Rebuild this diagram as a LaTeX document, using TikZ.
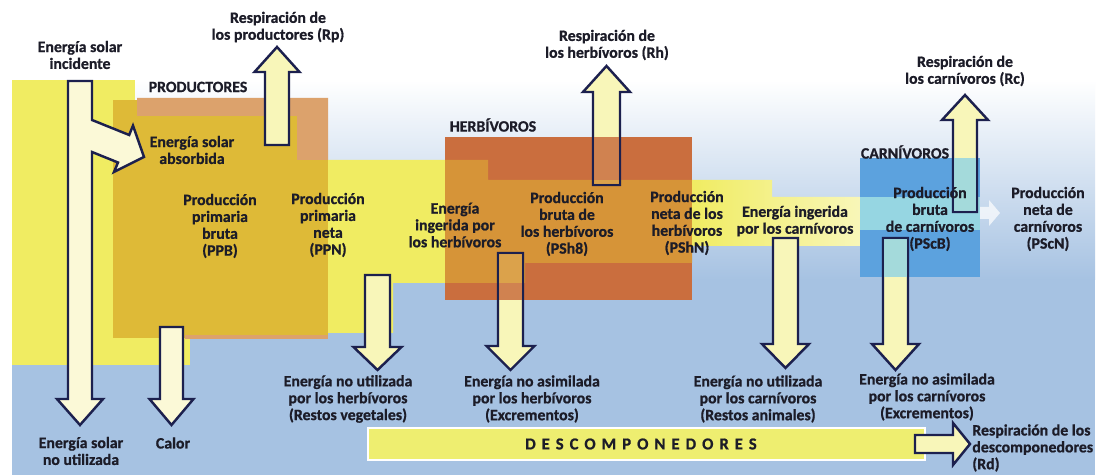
\documentclass[tikz,border=0pt]{standalone}
\usepackage{fontspec}
\setmainfont{Carlito}
\definecolor{bgblue}{RGB}{166,194,226}
\definecolor{sunyel}{RGB}{240,236,98}
\definecolor{gold}{RGB}{222,186,55}
\definecolor{salmon}{RGB}{220,162,108}
\definecolor{herbout}{RGB}{202,110,62}
\definecolor{herbin}{RGB}{214,148,56}
\definecolor{carnblue}{RGB}{92,162,222}
\definecolor{carncyan}{RGB}{150,214,226}
\definecolor{arrowline}{RGB}{28,32,78}
\definecolor{arrowfill}{RGB}{248,246,185}
\definecolor{arrowcream}{RGB}{251,249,215}
\definecolor{txt}{RGB}{28,28,40}
\definecolor{baryel}{RGB}{238,238,112}
\tikzset{
  blockarrow/.style={draw=arrowline, line width=1.4pt, line join=miter, fill=arrowfill},
  lbl/.style={font=\bfseries\addfontfeatures{FakeBold=0.8}\fontsize{9}{9.6}\selectfont, text=txt, align=center, inner sep=0pt},
  patch/.style={opacity=.85},
}
\begin{document}
\begin{tikzpicture}[x=0.02cm,y=-0.02cm]
\useasboundingbox (0,0) rectangle (1109,475);
\fill[white] (0,0) rectangle (1109,475);
% background
\shade[top color=white, bottom color=bgblue] (12,80) rectangle (1095,280);
\fill[bgblue] (12,279.5) rectangle (1095,475);
% solar yellow column
\fill[sunyel] (12,80) rectangle (135,365);
\fill[sunyel] (113,100) rectangle (190,365);
% productores
\fill[gold] (113,100) rectangle (328,338);
\fill[salmon] (137,98) -- (328,98) -- (328,160) -- (297,160) -- (297,116) -- (137,116) -- cycle;
\fill[salmon] (185,335) rectangle (328,339);
% yellow band to herbivores
\fill[sunyel] (328,160) -- (445,160) -- (445,283) -- (393,283) -- (393,333) -- (328,333) -- cycle;
% herbivores
\fill[herbout] (445,137) rectangle (692,300);
\fill[herbin] (445,160) -- (488,160) -- (488,180) -- (692,180) -- (692,263) -- (525,263) -- (525,283) -- (445,283) -- cycle;
% yellow band to carnivores
\shade[left color=sunyel, right color=sunyel!45!white] (692,180) -- (772,180) -- (772,197) -- (860,197) -- (860,246) -- (692,246) -- cycle;
% carnivores
\fill[carnblue] (860,158) rectangle (980,277);
\fill[carncyan] (860,197) rectangle (980,230);
\fill[white, opacity=.7] (980,207) -- (989,207) -- (989,200) -- (1000,213) -- (989,226) -- (989,219) -- (980,219) -- cycle;
% descomponedores bar
\fill[baryel, draw=white, line width=1.5pt] (368,428) rectangle (925,460);
% arrows
\path[blockarrow, fill=arrowcream] (68,81) -- (68,399) -- (57,399) -- (80,425) -- (103,399) -- (92,399) -- (92,152) -- (118,162.5) -- (114,172) -- (144,157) -- (133,125.6) -- (129.2,135) -- (92,120) -- (92,81) -- cycle;
\path[blockarrow] (265,145) -- (265,72) -- (254.5,72) -- (277,47) -- (299.5,72) -- (289,72) -- (289,145) -- cycle;
\path[blockarrow, fill=arrowcream] (160,327) -- (160,399) -- (149.5,399) -- (171.5,425) -- (193.5,399) -- (183,399) -- (183,327) -- cycle;
\path[blockarrow] (365,275) -- (365,347) -- (353.5,347) -- (377.5,370) -- (401.5,347) -- (390,347) -- (390,275) -- cycle;
\path[blockarrow] (498,253) -- (498,346) -- (486.5,346) -- (510.5,370) -- (534.5,346) -- (523,346) -- (523,253) -- cycle;
\fill[herbin, patch] (499.3,254.3) rectangle (521.7,283);
\fill[herbout, patch] (499.3,283) rectangle (521.7,300);
\path[blockarrow] (593,185) -- (593,92) -- (583,92) -- (606.5,66) -- (630,92) -- (620,92) -- (620,185) -- cycle;
\fill[herbout, patch] (594.3,137) rectangle (618.7,180);
\fill[herbin, patch] (594.3,180) rectangle (618.7,183.7);
\path[blockarrow] (773,238) -- (773,344) -- (762,344) -- (785.5,368) -- (809,344) -- (798,344) -- (798,238) -- cycle;
\path[blockarrow] (883,238) -- (883,344) -- (872,344) -- (895.5,370) -- (919,344) -- (908,344) -- (908,238) -- cycle;
\fill[carncyan, patch] (884.3,239.3) rectangle (906.7,277);
\path[blockarrow] (953,212) -- (953,120) -- (942,120) -- (965,95) -- (988,120) -- (977,120) -- (977,212) -- cycle;
\fill[carncyan, patch] (954.3,158) rectangle (975.7,210.7);
\path[blockarrow] (915,435) -- (953,435) -- (953,423) -- (970,444) -- (953,465) -- (953,453) -- (915,453) -- cycle;
% texts
\node[lbl] (tSolarIn) at (80,55) {Energía solar\\incidente};
\node[lbl] (tRp) at (278,27) {Respiración de\\los productores (Rp)};
\node[lbl] (tProd) at (198,87) {PRODUCTORES};
\node[lbl] (tAbs) at (192,150) {Energía solar\\absorbida};
\node[lbl] (tPPB) at (220,226) {Producción\\primaria\\bruta\\(PPB)};
\node[lbl] (tPPN) at (328,225) {Producción\\primaria\\neta\\(PPN)};
\node[lbl] (tRh) at (607,45) {Respiración de\\los herbívoros (Rh)};
\node[lbl] (tHerb) at (493,125) {HERBÍVOROS};
\node[lbl] (tIngH) at (455,225) {Energía\\ingerida por\\los herbívoros};
\node[lbl] (tPShB) at (567,224) {Producción\\bruta de\\los herbívoros\\(PSh8)};
\node[lbl] (tPShN) at (687,223) {Producción\\neta de los\\herbívoros\\(PShN)};
\node[lbl] (tIngC) at (795,221) {Energía ingerida\\por los carnívoros};
\node[lbl] (tCarn) at (905,152) {CARNÍVOROS};
\node[lbl] (tRc) at (965,71) {Respiración de\\los carnívoros (Rc)};
\node[lbl] (tPScB) at (930,219) {Producción\\bruta\\de carnívoros\\(PScB)};
\node[lbl] (tPScN) at (1048,219) {Producción\\neta de\\carnívoros\\(PScN)};
\node[lbl] (tRestV) at (348,399) {Energía no utilizada\\por los herbívoros\\(Restos vegetales)};
\node[lbl] (tExcH) at (532,399) {Energía no asimilada\\por los herbívoros\\(Excrementos)};
\node[lbl] (tRestA) at (758,399) {Energía no utilizada\\por los carnívoros\\(Restos animales)};
\node[lbl] (tExcC) at (927,397) {Energía no asimilada\\por los carnívoros\\(Excrementos)};
\node[lbl] (tSolarNo) at (81,451) {Energía solar\\no utilizada};
\node[lbl] (tCalor) at (173,443) {Calor};
\node[lbl, font=\bfseries\addfontfeatures{FakeBold=0.8,LetterSpace=36}\fontsize{9.5}{10}\selectfont] (tDesc) at (641,444) {DESCOMPONEDORES};
\node[lbl, align=left, anchor=west] (tRd) at (972,448) {Respiración de los\\descomponedores\\(Rd)};
\end{tikzpicture}
\end{document}
